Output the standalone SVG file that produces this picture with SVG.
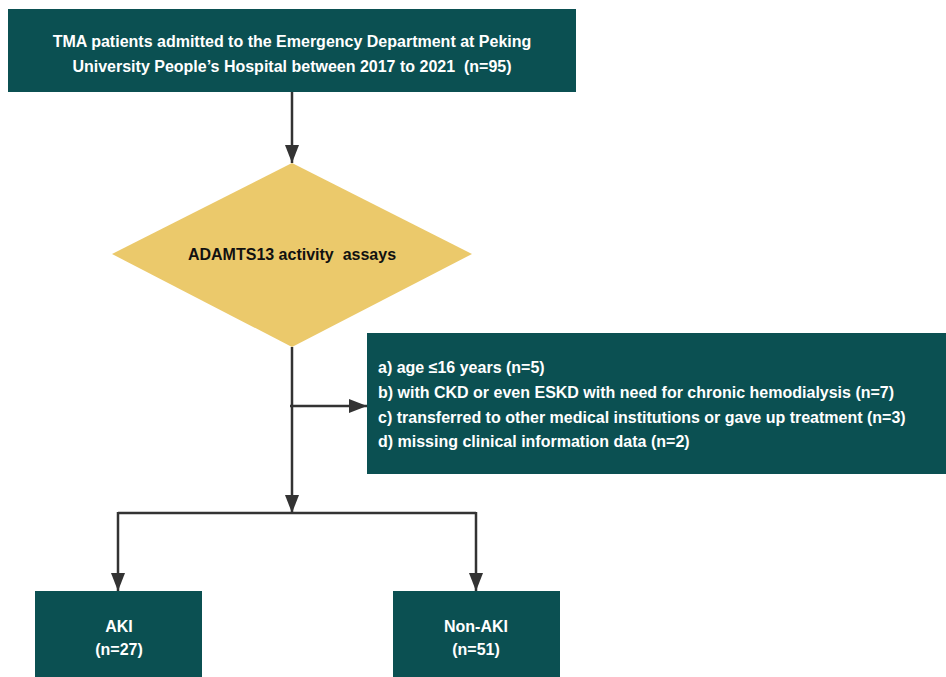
<svg xmlns="http://www.w3.org/2000/svg" width="946" height="677" viewBox="0 0 946 677">
<defs>
<marker id="arr" markerUnits="userSpaceOnUse" markerWidth="18" markerHeight="14" refX="18" refY="7" orient="auto">
<path d="M0,0 L18,7 L0,14 Z" fill="#333"/>
</marker>
<style>
.box{fill:#0b5052;}
.dia{fill:#ebc96b;}
.wt{fill:#ffffff;font-family:"Liberation Sans",Arial,sans-serif;font-weight:bold;font-size:16px;white-space:pre;}
.bt{fill:#111;font-family:"Liberation Sans",Arial,sans-serif;font-weight:bold;font-size:16px;white-space:pre;}
.ln{stroke:#333;stroke-width:2.5;fill:none;}
</style>
</defs>
<rect width="946" height="677" fill="#ffffff"/>
<g id="connectors">
<line class="ln" x1="292" y1="92" x2="292" y2="163" marker-end="url(#arr)"/>
<line class="ln" x1="292" y1="347" x2="292" y2="513" marker-end="url(#arr)"/>
<line class="ln" x1="290" y1="406" x2="367" y2="406" marker-end="url(#arr)"/>
<polyline class="ln" points="118,513 476,513"/>
<line class="ln" x1="118" y1="512" x2="118" y2="591" marker-end="url(#arr)"/>
<line class="ln" x1="476" y1="512" x2="476" y2="591" marker-end="url(#arr)"/>
</g>
<g id="node-tma">
<rect class="box" x="8" y="9" width="568" height="83"/>
<text class="wt" text-anchor="middle" x="292" y="47">TMA patients admitted to the Emergency Department at Peking</text>
<text class="wt" text-anchor="middle" x="292" y="72">University People’s Hospital between 2017 to 2021  (n=95)</text>
</g>
<g id="node-adamts13">
<polygon class="dia" points="292,163 472,254 292,347 112,254"/>
<text class="bt" text-anchor="middle" x="292" y="260">ADAMTS13 activity  assays</text>
</g>
<g id="node-exclusion">
<rect class="box" x="367" y="333" width="579" height="141"/>
<text class="wt" x="378" y="373">a) age ≤16 years (n=5)</text>
<text class="wt" x="378" y="398">b) with CKD or even ESKD with need for chronic hemodialysis (n=7)</text>
<text class="wt" x="378" y="423">c) transferred to other medical institutions or gave up treatment (n=3)</text>
<text class="wt" x="378" y="447">d) missing clinical information data (n=2)</text>
</g>
<g id="node-aki">
<rect class="box" x="35" y="591" width="167" height="86"/>
<text class="wt" text-anchor="middle" x="119" y="632">AKI</text>
<text class="wt" text-anchor="middle" x="119" y="655">(n=27)</text>
</g>
<g id="node-nonaki">
<rect class="box" x="393" y="591" width="167" height="86"/>
<text class="wt" text-anchor="middle" x="476" y="632">Non-AKI</text>
<text class="wt" text-anchor="middle" x="476" y="655">(n=51)</text>
</g>
</svg>
